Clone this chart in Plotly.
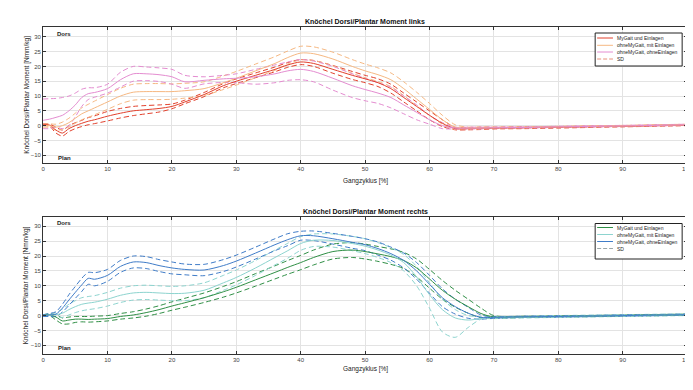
import plotly.graph_objects as go

W, H = 693, 390

X = [0,1,2,3,4,5,6,7,8,10,12,14,16,18,20,22,25,28,30,33,36,38,40,42,45,48,50,52,54,56,58,60,62,64,66,68,70,75,80,90,100]

series_names = ["MyGait und Einlagen", "ohneMyGait, mit Einlagen", "ohneMyGait, ohneEinlagen"]

# ---- links (left) ----
L_red_mean = [0.3,0.2,-1.5,-2.5,-1.0,0.0,0.8,1.5,2.0,3.2,4.2,5.0,5.4,5.8,6.5,8.0,10.5,13.5,15.0,17.0,19.0,20.5,21.5,21.0,19.0,17.0,15.8,14.5,12.5,9.5,6.5,3.5,0.8,-1.0,-1.0,-0.9,-0.8,-0.7,-0.5,-0.2,0.2]
L_red_hi = [0.6,0.5,-0.5,-1.5,0.0,1.0,1.8,2.7,3.3,4.8,5.8,6.5,6.8,7.0,7.3,8.6,11.2,14.2,15.8,17.8,19.8,21.3,22.3,22.0,20.3,18.3,17.0,15.8,14.0,11.0,8.0,5.0,2.0,-0.6,-0.6,-0.5,-0.5,-0.4,-0.3,0.0,0.4]
L_red_lo = [0.0,-0.2,-2.5,-3.5,-2.0,-1.0,-0.3,0.3,0.7,1.6,2.6,3.4,4.0,4.6,5.7,7.4,9.8,12.8,14.2,16.2,18.2,19.7,20.6,20.0,17.7,15.6,14.5,13.2,11.0,8.0,5.0,2.0,-0.3,-1.4,-1.4,-1.3,-1.1,-1.0,-0.8,-0.4,0.0]

L_org_mean = [0.0,0.0,-0.5,0.0,1.0,2.5,4.0,5.0,6.0,8.0,10.0,11.3,11.5,11.5,11.5,11.8,12.5,14.5,16.0,18.5,21.0,23.0,24.5,24.3,22.5,20.0,18.5,17.2,15.5,12.5,9.0,5.5,2.0,-0.5,-0.8,-0.8,-0.7,-0.6,-0.4,-0.1,0.3]
L_org_hi = [0.5,0.6,0.5,1.2,2.5,4.2,6.0,7.2,8.3,10.5,12.6,14.0,14.2,14.2,14.1,14.3,14.8,16.8,18.3,20.8,23.3,25.2,26.8,26.6,24.8,22.3,20.8,19.5,17.8,14.8,11.3,7.5,3.5,0.3,-0.5,-0.5,-0.5,-0.4,-0.2,0.1,0.5]
L_org_lo = [-0.5,-0.6,-1.5,-1.2,-0.5,0.8,2.0,2.8,3.7,5.5,7.4,8.6,8.8,8.8,8.9,9.3,10.2,12.2,13.7,16.2,18.7,20.8,22.2,22.0,20.2,17.7,16.2,14.9,13.2,10.2,6.7,3.5,0.5,-1.3,-1.1,-1.1,-0.9,-0.8,-0.6,-0.3,0.1]

L_pnk_mean = [1.8,2.2,2.8,3.5,5.0,7.0,9.5,10.8,11.2,12.5,15.5,17.5,17.5,17.2,16.5,14.8,15.3,15.8,16.0,16.5,17.5,18.5,19.0,18.3,16.0,13.5,12.2,11.0,9.5,7.0,4.5,2.0,0.0,-0.8,-0.8,-0.8,-0.7,-0.6,-0.4,-0.1,0.3]
L_pnk_hi = [9.0,9.1,9.2,9.5,10.0,11.0,12.3,12.8,12.8,14.0,18.0,20.0,19.8,19.5,19.0,17.0,16.5,17.0,17.5,19.0,20.5,21.5,22.3,21.8,20.0,17.5,16.0,14.5,13.0,10.0,7.0,3.5,1.0,-0.5,-0.5,-0.5,-0.5,-0.4,-0.2,0.1,0.5]
L_pnk_lo = [-1.0,-1.0,-0.5,-1.0,0.0,3.0,6.5,8.8,9.6,11.0,13.0,15.0,15.2,14.9,14.0,12.6,14.1,14.6,14.5,14.0,14.5,15.3,15.5,14.8,12.0,9.5,8.4,7.5,6.0,4.0,2.0,0.5,-1.0,-1.1,-1.1,-1.1,-0.9,-0.8,-0.6,-0.3,0.1]

# ---- rechts (right) ----
R_grn_mean = [0.0,0.3,-0.5,-1.8,-1.5,-1.2,-1.2,-1.3,-1.2,-1.0,-0.3,0.2,1.0,2.0,3.2,4.3,6.0,8.0,9.5,12.0,14.5,16.2,17.8,19.5,21.5,22.0,21.5,20.7,19.8,18.5,16.0,12.3,8.5,5.5,3.0,0.7,-0.5,-0.4,-0.3,0.0,0.3]
R_grn_hi = [0.2,0.6,0.3,-0.8,-0.5,-0.3,-0.3,-0.3,-0.2,0.0,0.7,1.3,2.2,3.3,4.6,5.8,7.6,9.8,11.4,14.1,16.7,18.5,20.2,22.0,24.0,24.5,24.0,23.2,22.4,21.2,19.0,15.5,11.8,8.5,5.5,2.5,0.0,-0.2,-0.1,0.2,0.5]
R_grn_lo = [-0.2,0.0,-1.5,-2.8,-2.8,-2.3,-2.1,-2.2,-2.1,-1.8,-1.2,-0.8,-0.2,0.7,1.8,2.8,4.4,6.2,7.6,9.9,12.3,13.9,15.4,17.0,19.0,19.5,19.0,18.2,17.2,15.8,13.0,9.2,5.5,2.8,0.8,-0.8,-1.0,-0.6,-0.5,-0.2,0.1]

R_cyn_mean = [0.0,0.2,0.3,0.8,2.0,3.0,3.8,4.2,4.5,5.5,6.8,7.6,7.8,7.6,7.4,7.5,8.5,11.0,12.8,16.0,19.5,21.8,24.2,25.3,25.2,24.2,23.3,22.0,20.3,17.8,13.0,7.0,2.0,-0.8,-1.5,-1.0,-0.6,-0.5,-0.3,0.0,0.3]
R_cyn_hi = [0.3,0.6,1.0,2.2,3.8,5.0,6.0,6.4,6.7,7.8,9.2,10.0,10.2,10.0,9.8,10.0,11.0,13.5,15.3,18.5,22.0,24.3,26.5,27.4,27.4,26.6,25.8,24.5,22.8,20.5,16.5,11.0,5.5,2.0,0.0,-0.4,-0.3,-0.2,0.0,0.3,0.6]
R_cyn_lo = [-0.3,-0.2,-0.4,-0.6,0.2,1.0,1.6,2.0,2.3,3.2,4.4,5.2,5.4,5.2,5.0,5.0,6.0,8.5,10.3,13.5,17.0,19.3,21.9,23.2,23.0,21.8,20.8,19.5,17.8,15.0,10.0,2.5,-5.5,-7.3,-4.0,-1.2,-1.0,-0.8,-0.6,-0.3,0.0]

R_blu_mean = [0.0,0.2,0.5,2.5,5.2,7.8,10.3,12.5,12.2,13.5,16.5,18.0,17.8,16.8,16.0,15.5,15.3,16.8,18.3,21.0,23.8,25.5,26.8,26.8,25.8,24.6,23.8,22.5,20.8,18.5,15.0,10.5,6.0,3.0,0.8,-0.6,-0.6,-0.4,-0.3,0.0,0.3]
R_blu_hi = [0.3,0.7,1.3,3.8,7.0,9.8,12.5,14.5,14.4,15.5,18.5,20.0,19.8,18.8,18.0,17.3,17.2,18.8,20.3,23.0,25.8,27.5,28.3,28.4,27.6,26.6,25.8,24.7,23.0,21.0,17.8,13.5,9.0,5.5,2.8,0.2,-0.3,-0.2,-0.1,0.2,0.5]
R_blu_lo = [-0.3,-0.3,-0.3,1.2,3.4,5.8,8.1,10.5,10.0,11.5,14.5,16.0,15.8,14.8,14.0,13.7,13.4,14.8,16.3,19.0,21.8,23.5,25.3,25.2,24.0,22.6,21.8,20.3,18.6,16.0,12.2,7.5,3.0,0.5,-0.9,-1.2,-0.9,-0.6,-0.5,-0.2,0.1]

x_ticks = [0,10,20,30,40,50,60,70,80,90,100]
y_ticks = [-10,-5,0,5,10,15,20,25,30]

titles = ["Knöchel Dorsi/Plantar Moment links", "Knöchel Dorsi/Plantar Moment rechts"]
ylabel = "Knöchel Dorsi/Plantar Moment [Nmm/kg]"
xlabel = "Gangzyklus [%]"
legend_labels = series_names + ["SD"]

top_colors = ["#e2402c", "#f6b882", "#e48cd0"]
bot_colors = ["#2f8f45", "#8dd4cf", "#3f7cc8"]
top_sd_color = "#e8907a"
bot_sd_color = "#9aa6a8"

FONT = "Liberation Sans, Arial, sans-serif"
DASH = "5px,3px"

fig = go.Figure()

def add_group(means, his, los, colors, xa, ya):
    for hi, lo, c in zip(his, los, colors):
        for arr in (hi, lo):
            fig.add_trace(go.Scatter(x=X, y=arr, mode="lines", xaxis=xa, yaxis=ya,
                                     line=dict(color=c, width=1, dash=DASH, shape="spline", smoothing=0.8),
                                     showlegend=False, hoverinfo="skip"))
    for name, m, c in zip(series_names, means, colors):
        fig.add_trace(go.Scatter(x=X, y=m, mode="lines", name=name, xaxis=xa, yaxis=ya,
                                 line=dict(color=c, width=1, shape="spline", smoothing=0.8),
                                 showlegend=False))

add_group([L_red_mean, L_org_mean, L_pnk_mean], [L_red_hi, L_org_hi, L_pnk_hi],
          [L_red_lo, L_org_lo, L_pnk_lo], top_colors, "x", "y")
add_group([R_grn_mean, R_cyn_mean, R_blu_mean], [R_grn_hi, R_cyn_hi, R_blu_hi],
          [R_grn_lo, R_cyn_lo, R_blu_lo], bot_colors, "x2", "y2")

x0, x1 = 33.5 / W, 685 / W
top_dom = [1 - 155 / H, 1 - 19 / H]
bot_dom = [1 - 346 / H, 1 - 209 / H]

axis_common = dict(showgrid=True, gridcolor="#e3e3e3", gridwidth=1, zeroline=False,
                   showline=True, linecolor="#333333", linewidth=1, mirror="ticks",
                   ticks="inside", ticklen=3, tickcolor="#333333",
                   tickfont=dict(size=6, color="#444444", family=FONT))

fig.update_layout(
    width=W, height=H, margin=dict(l=0, r=0, t=0, b=0),
    paper_bgcolor="white", plot_bgcolor="white", showlegend=False,
    font=dict(family=FONT, size=6, color="#222222"),
    xaxis=dict(domain=[x0, x1], range=[0, 100], tickvals=x_ticks, anchor="y", **axis_common),
    yaxis=dict(domain=top_dom, range=[-12.6, 33.3], tickvals=y_ticks, anchor="x", **axis_common),
    xaxis2=dict(domain=[x0, x1], range=[0, 100], tickvals=x_ticks, anchor="y2", **axis_common),
    yaxis2=dict(domain=bot_dom, range=[-12.9, 33.1], tickvals=y_ticks, anchor="x2", **axis_common),
)

def px(x):
    return x / W

def py(y):
    return 1 - y / H

ann = []
shapes = []
for t, ty, xl, dom in [(titles[0], 14, 173, top_dom), (titles[1], 203, 361, bot_dom)]:
    ann.append(dict(text="<b>" + t + "</b>", x=(33.5 + 685) / 2 / W, y=py(ty), xref="paper", yref="paper",
                    showarrow=False, font=dict(size=7, color="#111111", family=FONT), xanchor="center", yanchor="middle"))
    ann.append(dict(text=ylabel, x=px(17), y=(dom[0] + dom[1]) / 2, xref="paper", yref="paper",
                    showarrow=False, textangle=-90, font=dict(size=6.5, color="#222222", family=FONT),
                    xanchor="center", yanchor="middle"))
    ann.append(dict(text=xlabel, x=(33.5 + 685) / 2 / W, y=py(xl), xref="paper", yref="paper",
                    showarrow=False, font=dict(size=6.5, color="#222222", family=FONT), xanchor="center", yanchor="middle"))

for xa, ya in [("x", "y"), ("x2", "y2")]:
    ann.append(dict(text="<b>Dors</b>", x=1.8, y=31, xref=xa, yref=ya, showarrow=False, xanchor="left",
                    font=dict(size=6, color="#222222", family=FONT)))
    ann.append(dict(text="<b>Plan</b>", x=2.0, y=-11, xref=xa, yref=ya, showarrow=False, xanchor="left",
                    font=dict(size=6, color="#222222", family=FONT)))

# Legend boxes (drawn manually to match the compact MATLAB style)
legend_specs = [
    (25, 58, [30, 37.3, 44, 51], top_colors, top_sd_color),
    (215.5, 251, [219.5, 226.5, 233.5, 240.5], bot_colors, bot_sd_color),
]
for y_top, y_bot, rows, colors, sdc in legend_specs:
    shapes.append(dict(type="rect", xref="paper", yref="paper", x0=px(592), x1=px(680), y0=py(y_bot), y1=py(y_top),
                       fillcolor="white", line=dict(color="#222222", width=1), layer="above"))
    for i, (label, ry) in enumerate(zip(legend_labels, rows)):
        col = colors[i] if i < 3 else sdc
        shapes.append(dict(type="line", xref="paper", yref="paper", x0=px(594), x1=px(610), y0=py(ry), y1=py(ry),
                           line=dict(color=col, width=1, dash=("4px,2px" if i == 3 else "solid")), layer="above"))
        ann.append(dict(text=label, x=px(612), y=py(ry), xref="paper", yref="paper", showarrow=False,
                        xanchor="left", yanchor="middle", font=dict(size=5, color="#222222", family=FONT)))

fig.update_layout(annotations=ann, shapes=shapes)

fig.write_html("out.html")
